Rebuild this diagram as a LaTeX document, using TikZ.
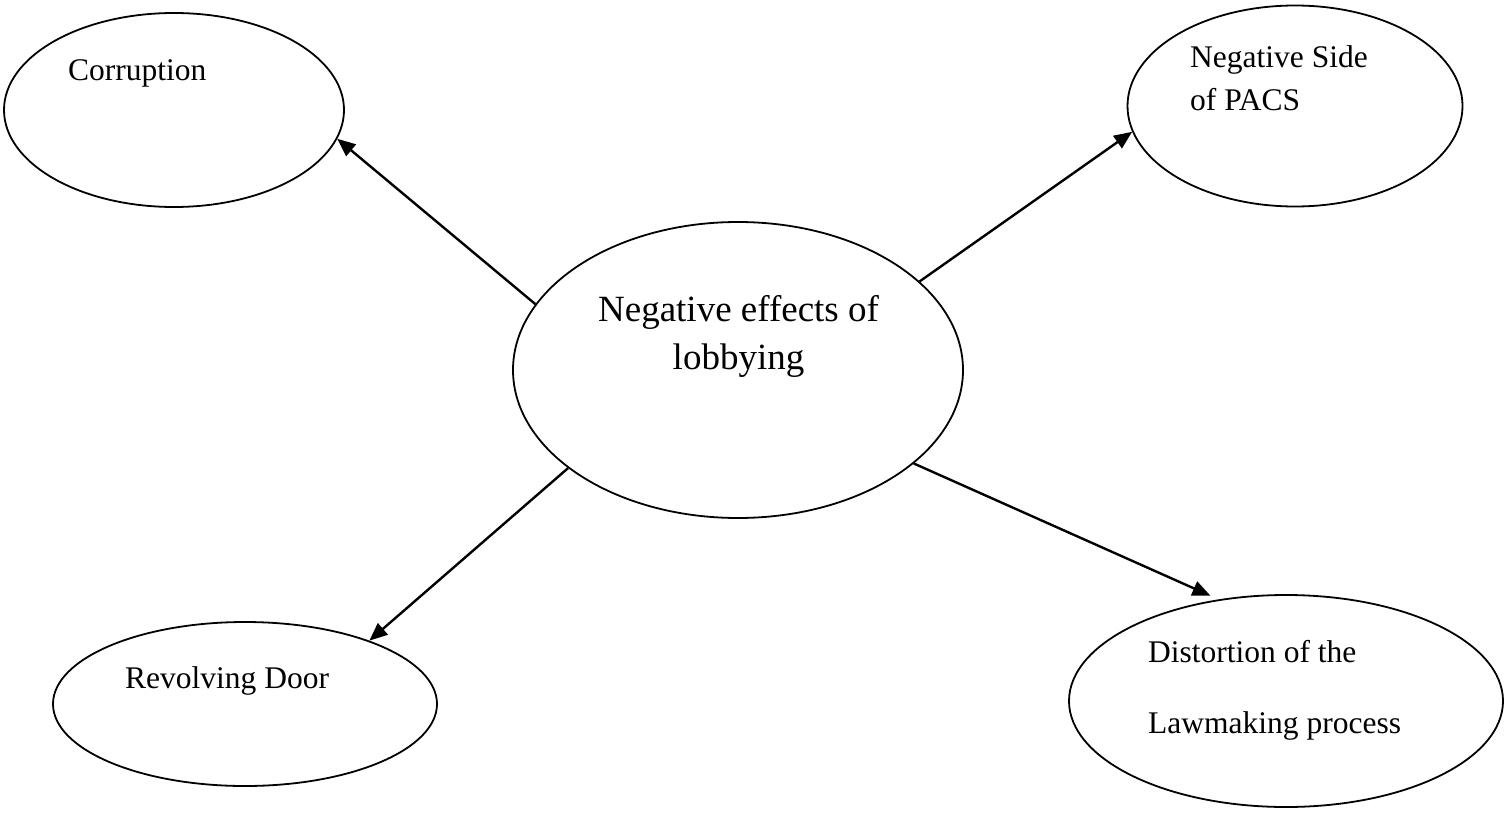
\documentclass[tikz,border=0pt]{standalone}
\usepackage{fontspec}
\setmainfont{Liberation Serif}
\usetikzlibrary{shapes.geometric,arrows.meta}
\tikzset{
  bubble/.style={draw=black, line width=1.8pt, ellipse, inner sep=0pt},
  txt/.style={inner sep=0pt, anchor=base west, font=\fontsize{31.5}{38}\selectfont},
  bigtxt/.style={inner sep=0pt, anchor=base, font=\fontsize{37}{48}\selectfont},
  link/.style={line width=2.4pt, -{Triangle[length=18pt,width=15pt]}}
}
\begin{document}
\begin{tikzpicture}[x=1pt,y=-1pt]
\useasboundingbox (0,0) rectangle (1504,816);
% ellipses
\node[bubble, minimum width=450pt, minimum height=296pt] (hub) at (738,370) {};
\node[bubble, minimum width=340pt, minimum height=194pt] (corr) at (174,110) {};
\node[bubble, minimum width=335pt, minimum height=201pt] (pacs) at (1295,106) {};
\node[bubble, minimum width=384pt, minimum height=164pt] (door) at (245,704) {};
\node[bubble, minimum width=434pt, minimum height=212pt] (law) at (1286,701) {};
% texts
\node[bigtxt] (hubA) at (738.5,321) {Negative effects of};
\node[bigtxt] (hubB) at (738.5,369) {lobbying};
\node[txt] (corrT) at (68,81) {Corruption};
\node[txt] (pacsA) at (1190,67) {Negative Side};
\node[txt] (pacsB) at (1190,110) {of PACS};
\node[txt] (doorT) at (125,688) {Revolving Door};
\node[txt] (lawA) at (1148,662) {Distortion of the};
\node[txt] (lawB) at (1148,733) {Lawmaking process};
% connectors
\draw[link] (hub.162.5) -- (corr.-10.4);
\draw[link] (hub.26.7) -- (pacs.189.2);
\draw[link] (hub.210.9) -- (door.27.1);
\draw[link] (hub.332.9) -- ([yshift=5pt]law.127);
\end{tikzpicture}
\end{document}
